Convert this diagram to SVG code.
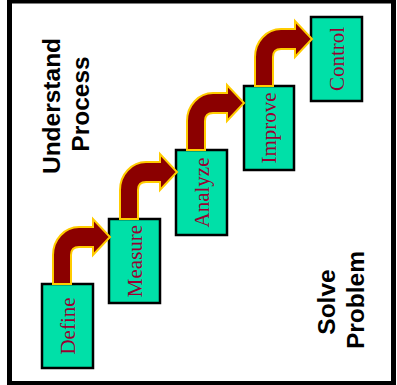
<svg xmlns="http://www.w3.org/2000/svg" width="397" height="385" viewBox="0 0 397 385">
<style>
.box{fill:#00E0A8;stroke:#000;stroke-width:2.5}
.lbl{font-family:"Liberation Serif","Times New Roman",serif;font-size:21px;fill:#990033;text-anchor:middle}
.arr{fill:#8B0000;stroke:#FFCC00;stroke-width:2;stroke-linejoin:miter}
.cap{font-family:"Liberation Sans",Arial,sans-serif;font-size:24.5px;font-weight:bold;fill:#000;text-anchor:middle}
</style>
<rect x="0" y="0" width="397" height="385" fill="#fff"/>
<rect x="9.5" y="1" width="384" height="382.5" fill="#fff" stroke="#000" stroke-width="5"/>

<g id="define">
<rect class="box" x="42" y="284" width="51" height="84"/>
<text class="lbl" transform="translate(67.5,326) rotate(-90)" y="7">Define</text>
</g>
<g id="measure">
<rect class="box" x="109" y="219" width="51" height="84"/>
<text class="lbl" transform="translate(134.5,261) rotate(-90)" y="7">Measure</text>
</g>
<g id="analyze">
<rect class="box" x="176" y="150" width="51" height="85"/>
<text class="lbl" transform="translate(201.5,192.5) rotate(-90)" y="7">Analyze</text>
</g>
<g id="improve">
<rect class="box" x="244" y="86" width="50" height="84"/>
<text class="lbl" transform="translate(269,128) rotate(-90)" y="7">Improve</text>
</g>
<g id="control">
<rect class="box" x="311" y="17" width="51" height="84"/>
<text class="lbl" transform="translate(336.5,59) rotate(-90)" y="7">Control</text>
</g>

<g id="connectors">
<path class="arr" d="M53,284 V255 A26 28 0 0 1 79,227 H93 V219 L110,237 L93,255 V247 H79 Q71,247 71,255 V284 Z"/>
<path class="arr" d="M120,219 V190 A26 28 0 0 1 146,162 H160 V154 L177,172 L160,190 V182 H146 Q138,182 138,190 V219 Z"/>
<path class="arr" d="M187,150 V121 A26 28 0 0 1 213,93 H227 V85 L244,103 L227,121 V113 H213 Q205,113 205,121 V150 Z"/>
<path class="arr" d="M255,86 V57 A26 28 0 0 1 281,29 H295 V21 L312,39 L295,57 V49 H281 Q273,49 273,57 V86 Z"/>
</g>

<g id="understand-process">
<text class="cap" transform="translate(60,106) rotate(-90)">Understand</text>
<text class="cap" transform="translate(88.5,104) rotate(-90)">Process</text>
</g>
<g id="solve-problem">
<text class="cap" transform="translate(335,302) rotate(-90)">Solve</text>
<text class="cap" transform="translate(364,300) rotate(-90)">Problem</text>
</g>
</svg>
